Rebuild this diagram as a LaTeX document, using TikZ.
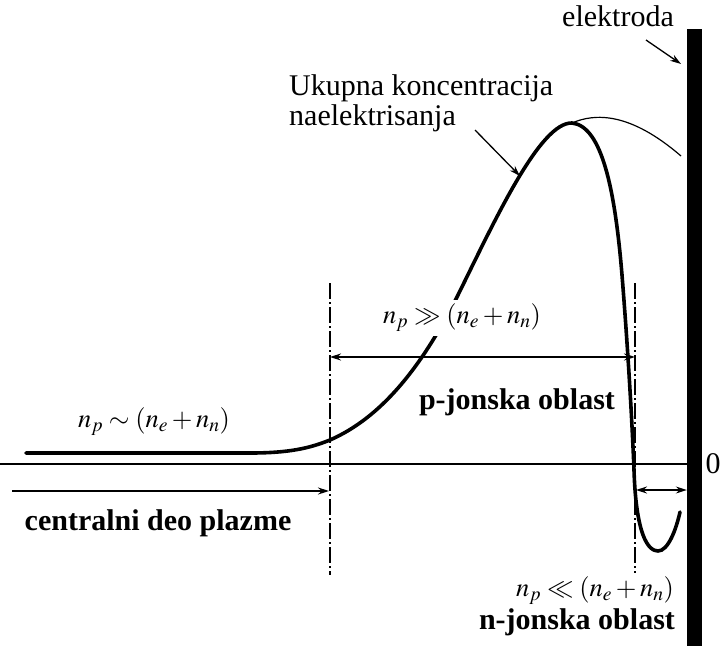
\documentclass[tikz,border=0pt]{standalone}
\usepackage{amsmath, amssymb}
\usepackage{mathptmx}
\usepackage[no-math]{fontspec}
\setmainfont{Liberation Serif}
\usepackage{tikz}
\usetikzlibrary{arrows.meta, positioning}

\begin{document}
\begin{tikzpicture}[x=1pt, y=-1pt,
    every node/.style={font=\fontsize{30}{30}\selectfont, inner sep=1pt},
    formula/.style={font=\fontsize{26.5}{27}\selectfont},
    kriva/.style={line width=3.6pt, line cap=round},
    osa/.style={line width=1.8pt},
    granica/.style={line width=1.6pt, dash pattern=on 16pt off 3pt on 2pt off 3pt},
    strelica/.style={line width=1.3pt, -{Stealth[length=11pt,width=7pt]}},
    dvostrana/.style={line width=1.3pt, {Stealth[length=11pt,width=7pt]}-{Stealth[length=11pt,width=7pt]}},
    oblast/.style={font=\fontsize{30}{30}\selectfont\bfseries}]
  \useasboundingbox (0,0) rectangle (723,646);

  % elektroda i osa
  \node[fill=black, minimum width=15pt, minimum height=617pt, inner sep=0pt] (elek) at (694.5,337.5) {};
  \node (nula) at (713,464) {0};
  \coordinate (osaL) at (0,464);
  \draw[osa] (osaL) -- (osaL -| elek.west);

  % granice oblasti
  \coordinate (Lt) at (330,283); \coordinate (Lb) at (330,575);
  \coordinate (Rt) at (635,283); \coordinate (Rb) at (635,573);
  \draw[granica] (Lt) -- (Lb);
  \draw[granica] (Rt) -- (Rb);

  % tanka kriva
  \coordinate (vrh) at (572,123);
  \coordinate (kraj) at (681,156);
  \draw[line width=1.2pt] (vrh) .. controls (595,113) and (630,112) .. (kraj);

  % ukupna koncentracija
  \coordinate (pocetak) at (26,453);
  \draw[kriva] (pocetak) -- (250,453)
      .. controls (290,453) and (310,448) .. (330,440)
      .. controls (380,418) and (420,370) .. (457,297)
      .. controls (495,220) and (540,122) .. (vrh)
      .. controls (602,126) and (615,190) .. (622,275)
      .. controls (628,350) and (632,420) .. (634,470)
      .. controls (636,535) and (648,551) .. (658,551)
      .. controls (668,551) and (676,530) .. (680,512);

  % natpisi
  \node[formula, fill=white, inner sep=4pt] (jak) at (462,318) {$n_p \gg (n_e + n_n)$};
  \node[formula] (slicno) at (154,422) {$n_p \sim (n_e + n_n)$};
  \node[formula] (slab) at (595,591) {$n_p \ll (n_e + n_n)$};
  \node[oblast] (poblast) at (517,402) {p-jonska oblast};
  \node[oblast] (centar) at (158,523) {centralni deo plazme};
  \node[oblast] (noblast) at (577,622) {n-jonska oblast};
  \node (elektroda) at (618,16) {elektroda};
  \node[align=left, anchor=north west] (ukupna) at (288,73) {Ukupna koncentracija\\naelektrisanja};

  % strelice
  \coordinate (pA) at (330,357); \coordinate (pB) at (635,357);
  \draw[dvostrana] (pA) -- (pB);
  \coordinate (cA) at (12,491); \coordinate (cB) at (329,491);
  \draw[strelica] (cA) -- (cB);
  \coordinate (nA) at (636,490);
  \draw[dvostrana] (nA) -- (nA -| elek.west);
  \coordinate (elekT) at (681,64);
  \draw[strelica] (646,40) -- (elekT);
  \coordinate (krivaT) at (520,176);
  \draw[strelica] (475,130) -- (krivaT);
\end{tikzpicture}
\end{document}
